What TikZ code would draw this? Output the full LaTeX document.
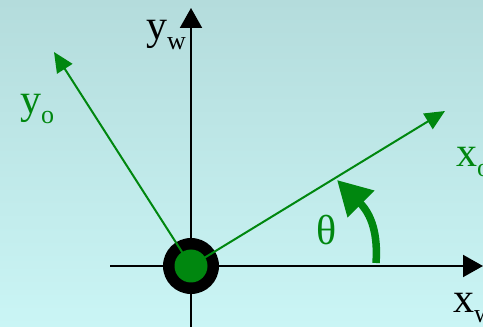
\documentclass[tikz,border=0pt]{standalone}
\usepackage{fontspec}
\setmainfont{Liberation Serif}
\usetikzlibrary{arrows.meta}
\definecolor{framegreen}{RGB}{0,135,15}
\definecolor{bgtop}{RGB}{180,220,220}
\definecolor{bgbot}{RGB}{202,245,245}
\newcommand{\lowsub}[1]{\raisebox{-10pt}{\fontsize{26}{26}\selectfont #1}}

\begin{document}
\begin{tikzpicture}[
    x=1pt, y=1pt,
    axis/.style={line width=2pt, -{Triangle[length=20pt, width=22pt]}},
    frame/.style={framegreen, line width=2pt, -{Triangle[length=20pt, width=18pt]}},
    turn/.style={framegreen, line width=7.5pt, -{Triangle[length=34pt, width=36pt]}},
    lbl/.style={font=\fontsize{42}{42}\selectfont, inner sep=0pt, anchor=base west}
]
\useasboundingbox (0,0) rectangle (483,327);
\clip (0,0) rectangle (483,327);
\shade[top color=bgtop, bottom color=bgbot] (0,0) rectangle (483,327);

% world axes
\coordinate (o) at (191,61);
\coordinate (xwend) at (110,61);
\coordinate (xwtip) at (483,61);
\coordinate (ywend) at (191,-2);
\coordinate (ywtip) at (191,319);
\draw[axis] (xwend) -- (xwtip);
\draw[axis] (ywend) -- (ywtip);

% object frame
\node[circle, fill=black, minimum size=56pt, inner sep=0pt] (hub) at (o) {};
\coordinate (xotip) at (445,216);
\coordinate (yotip) at (54,275);
\draw[frame] (hub.center) -- (xotip);
\draw[frame] (hub.center) -- (yotip);
\node[circle, fill=framegreen, minimum size=33pt, inner sep=0pt] (pin) at (o) {};

% rotation angle
\coordinate (turnstart) at (376,64);
\coordinate (turntip) at (337,147);
\draw[turn] (turnstart) .. controls (378,92) and (372,112) .. (turntip);
\node[lbl, framegreen, anchor=center] (theta) at (327,97) {θ};

% labels
\node[lbl] (yw) at (146,287) {y\lowsub{w}};
\node[lbl, framegreen] (yo) at (20,213) {y\lowsub{o}};
\node[lbl, framegreen] (xo) at (456,160) {x\lowsub{o}};
\node[lbl] (xw) at (453,14) {x\lowsub{w}};
\end{tikzpicture}
\end{document}
